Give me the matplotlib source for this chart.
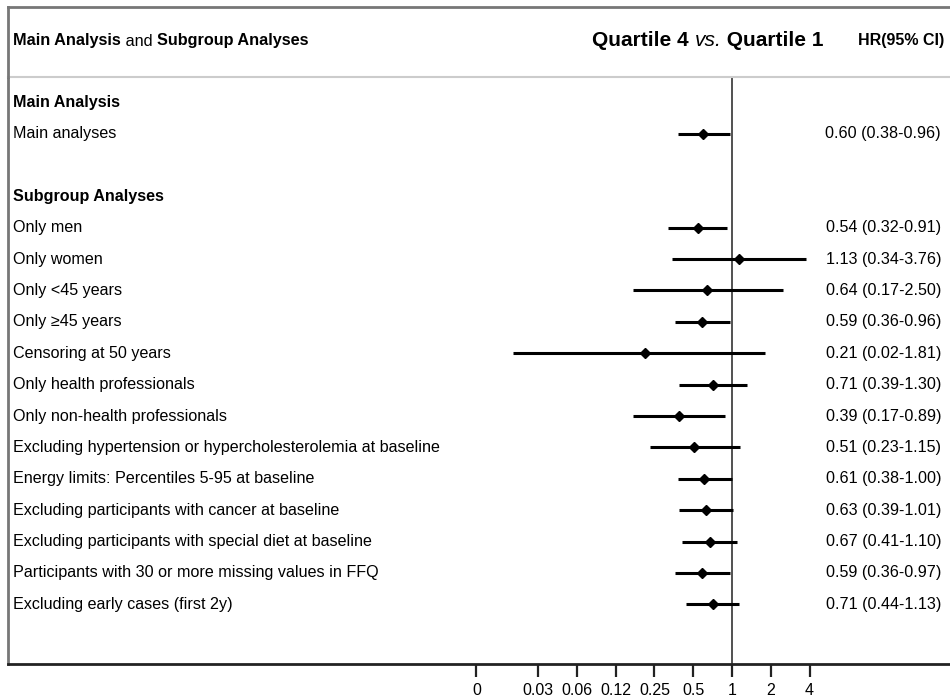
import matplotlib
matplotlib.use("Agg")
import matplotlib.pyplot as plt
from matplotlib import font_manager
from matplotlib.lines import Line2D
import matplotlib.transforms as mtransforms

# forest plot rows (subgroup rows follow the header rows)
labels = ["Main analyses",
          "Only men", "Only women", "Only <45 years", "Only \u226545 years",
          "Censoring at 50 years", "Only health professionals",
          "Only non-health professionals",
          "Excluding hypertension or hypercholesterolemia at baseline",
          "Energy limits: Percentiles 5-95 at baseline",
          "Excluding participants with cancer at baseline",
          "Excluding participants with special diet at baseline",
          "Participants with 30 or more missing values in FFQ",
          "Excluding early cases (first 2y)"]
hr = [0.60, 0.54, 1.13, 0.64, 0.59, 0.21, 0.71, 0.39, 0.51, 0.61, 0.63, 0.67, 0.59, 0.71]
lo = [0.38, 0.32, 0.34, 0.17, 0.36, 0.02, 0.39, 0.17, 0.23, 0.38, 0.39, 0.41, 0.36, 0.44]
hi = [0.96, 0.91, 3.76, 2.50, 0.96, 1.81, 1.30, 0.89, 1.15, 1.00, 1.01, 1.10, 0.97, 1.13]
rows = [1] + list(range(4, 17))
section_titles = ["Main Analysis", "Subgroup Analyses"]
section_rows = [0, 3]

tick_vals = [0.0104, 1/32, 1/16, 1/8, 1/4, 1/2, 1, 2, 4]
tick_labels = ["0", "0.03", "0.06", "0.12", "0.25", "0.5", "1", "2", "4"]

names = {f.name for f in font_manager.fontManager.ttflist}
NARROW = "Liberation Sans Narrow" if "Liberation Sans Narrow" in names else "Liberation Sans"
plt.rcParams["font.family"] = ["Liberation Sans", "DejaVu Sans"]

W, H = 950, 699
fig = plt.figure(figsize=(9.5, 6.99), dpi=100)
ax = fig.add_axes([8 / W, 1 - 664 / H, (950 - 8) / W, (664 - 77) / H])

ax.set_xscale("log", base=2)
ax.set_xlim(2 ** ((8 - 732) / 38.8), 2 ** ((950 - 732) / 38.8))
ax.set_ylim(17.9, -0.8)
ax.minorticks_off()
ax.set_xticks(tick_vals)
ax.set_xticklabels(tick_labels)
ax.set_yticks([])
ax.tick_params(axis="x", length=9, width=1.6, labelsize=11.5, pad=5, color="#222222")

ax.spines["right"].set_visible(False)
ax.spines["left"].set_color("#777777")
ax.spines["left"].set_linewidth(2)
ax.spines["top"].set_color("#cccccc")
ax.spines["top"].set_linewidth(1.5)
ax.spines["bottom"].set_color("#222222")
ax.spines["bottom"].set_linewidth(2)

ax.axvline(1, color="#333333", lw=1.2, zorder=1)

# CI bars and point estimates
ax.hlines(rows, lo, hi, color="black", lw=2.2, zorder=2)
ax.plot(hr, rows, "D", color="black", markersize=5.5, zorder=3)

trans = mtransforms.blended_transform_factory(ax.transAxes, ax.transData)
x_lab = (13 - 8) / 942
x_val = (941 - 8) / 942
fs = 11.6
for r, t in zip(section_rows, section_titles):
    ax.text(x_lab, r, t, transform=trans, fontsize=fs, fontweight="bold", va="center")
for r, t, h, l, u in zip(rows, labels, hr, lo, hi):
    ax.text(x_lab, r, t, transform=trans, fontsize=fs, va="center")
    ax.text(x_val, r, f"{h:.2f} ({l:.2f}-{u:.2f})", transform=trans,
            fontsize=fs, va="center", ha="right")

# header box
fig.add_artist(Line2D([8 / W, 1], [1 - 7 / H] * 2, color="#777777", lw=2))
fig.add_artist(Line2D([8 / W] * 2, [1 - 7 / H, 1 - 77 / H], color="#777777", lw=2))

renderer = fig.canvas.get_renderer()


def run_text(x, y, parts, size):
    for s, w, st in parts:
        t = fig.text(x / W, 1 - y / H, s, fontsize=size, fontweight=w, fontstyle=st,
                     va="center", family=[NARROW, "DejaVu Sans"])
        x += t.get_window_extent(renderer).width


run_text(13, 41, [("Main Analysis", "bold", "normal"), (" and ", "normal", "normal"),
                  ("Subgroup Analyses", "bold", "normal")], 11.7)
run_text(592, 41, [("Quartile 4 ", "bold", "normal"), ("vs.", "normal", "italic"),
                   (" Quartile 1", "bold", "normal")], 15)
run_text(858, 41, [("HR(95% CI)", "bold", "normal")], 11.5)

fig.savefig("out.png", dpi=100)
